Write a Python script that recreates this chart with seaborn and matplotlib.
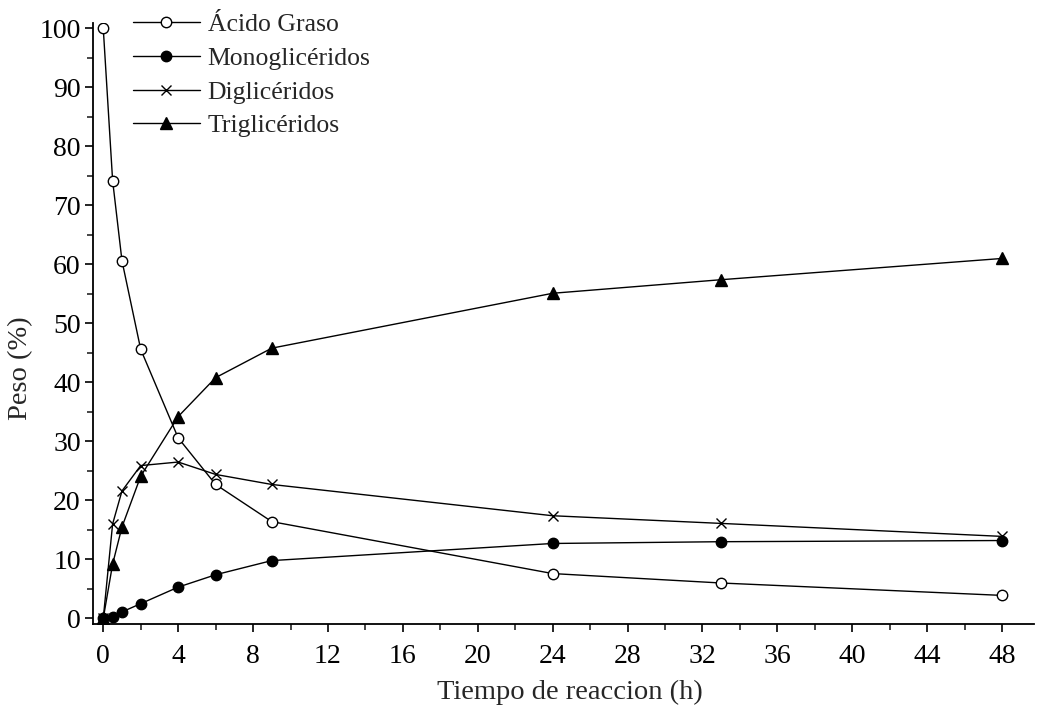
import seaborn as sns
import matplotlib.pyplot as plt
from matplotlib.ticker import MultipleLocator
import pandas as pd

# datos
tiempo = [0, 0.5, 1, 2, 4, 6, 9, 24, 33, 48]
acido_graso = [100, 74.2, 60.6, 45.6, 30.6, 22.7, 16.4, 7.6, 6.0, 3.9]
monogliceridos = [0, 0.2, 1.1, 2.5, 5.3, 7.4, 9.8, 12.7, 13.0, 13.2]
digliceridos = [0, 16.0, 21.6, 25.9, 26.5, 24.4, 22.7, 17.4, 16.1, 13.9]
trigliceridos = [0, 9.2, 15.5, 24.1, 34.2, 40.8, 45.8, 55.1, 57.4, 61.0]

series = {
    "Ácido Graso": (acido_graso, "o", "white", 7.5),
    "Monoglicéridos": (monogliceridos, "o", "black", 7.5),
    "Diglicéridos": (digliceridos, "x", "black", 7.5),
    "Triglicéridos": (trigliceridos, "^", "black", 8),
}

sns.set_theme(style="ticks")
plt.rcParams["font.family"] = ["Liberation Serif", "DejaVu Serif"]

fig = plt.figure(figsize=(10.37, 7.06), dpi=100)
ax = fig.add_axes([0.09, 0.1157, 0.907, 0.8517])

for nombre, (valores, marcador, relleno, tam) in series.items():
    df = pd.DataFrame({"Tiempo": tiempo, "Peso": valores})
    sns.lineplot(data=df, x="Tiempo", y="Peso", ax=ax, color="black",
                 linewidth=1.0, marker=marcador, markersize=tam,
                 markerfacecolor=relleno, markeredgecolor="black",
                 markeredgewidth=1.0, label=nombre)

ax.set_xlim(-0.53, 49.7)
ax.set_ylim(-1.0, 100.9)
ax.xaxis.set_major_locator(MultipleLocator(4))
ax.xaxis.set_minor_locator(MultipleLocator(2))
ax.yaxis.set_major_locator(MultipleLocator(10))
ax.yaxis.set_minor_locator(MultipleLocator(5))
ax.tick_params(which="major", direction="out", length=6, width=1.2,
               labelsize=20, colors="black")
ax.tick_params(axis="x", which="major", pad=8)
ax.tick_params(axis="y", which="major", pad=3)
ax.tick_params(which="minor", direction="out", length=4, width=1.2)

for lado in ["top", "right"]:
    ax.spines[lado].set_visible(False)
for lado in ["left", "bottom"]:
    ax.spines[lado].set_linewidth(1.3)
    ax.spines[lado].set_color("black")

ax.set_xlabel("Tiempo de reaccion (h)", fontsize=20.5)
ax.set_ylabel("Peso (%)", fontsize=20.5)
ax.xaxis.set_label_coords(0.507, -0.092)
ax.yaxis.set_label_coords(-0.064, 0.426)

ax.legend(loc="upper left", bbox_to_anchor=(133 / 1037, 1 - 13 / 706),
          bbox_transform=fig.transFigure, frameon=False, fontsize=18.5,
          handlelength=2.6, handletextpad=0.3, labelspacing=0.42,
          borderpad=0, borderaxespad=0)

fig.savefig("out.png", dpi=100)
